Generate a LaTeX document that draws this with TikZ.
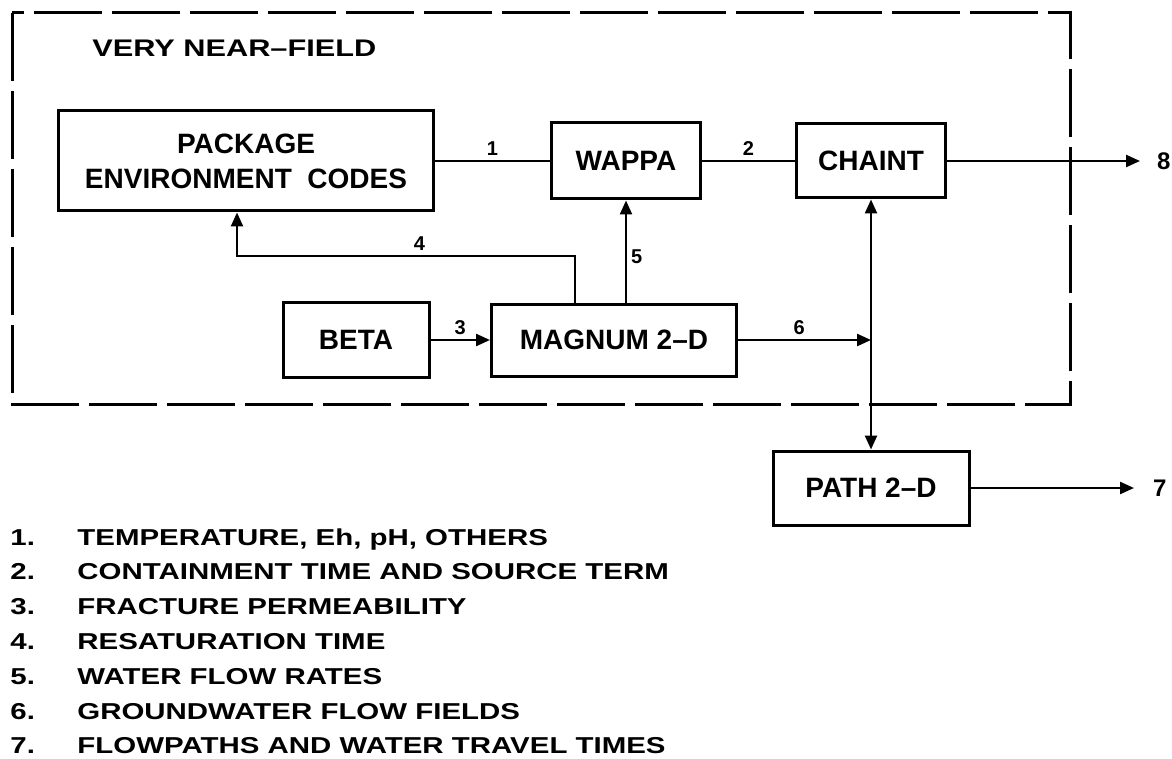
\documentclass[tikz,border=0pt]{standalone}
\usepackage{fontspec}
\setmainfont{Liberation Sans}
\newfontfamily\widefont{Liberation Sans}[Ligatures=TeX, FakeStretch=1.28]
\usetikzlibrary{arrows.meta}

\begin{document}
\begin{tikzpicture}[x=0.5pt, y=-0.5pt, >={Triangle[length=7pt, width=6pt]},
    box/.style={draw, line width=1.5pt, font=\fontsize{14}{17.5}\selectfont\bfseries, align=center, inner sep=2pt},
    link/.style={line width=1.2pt},
    num/.style={font=\fontsize{10}{12}\selectfont\bfseries, inner sep=2pt},
    legend/.style={anchor=base west, inner sep=0pt, font=\widefont\fontsize{11.5}{13}\selectfont\bfseries}]
  \useasboundingbox (0,0) rectangle (1172,759);
  \draw[line width=1.5pt, dash pattern=on 34pt off 5pt] (12,13) rectangle (1070,404);
  \node[anchor=west, inner sep=0pt, font=\widefont\fontsize{12}{14}\selectfont\bfseries] (vnf) at (92,48) {VERY NEAR--FIELD};
  \node[box, minimum width=187.5pt, minimum height=50pt] (package) at (246,161) {PACKAGE\\ENVIRONMENT\ \ CODES};
  \node[box, minimum width=74.5pt, minimum height=38pt] (wappa) at (626,161) {WAPPA};
  \node[box, minimum width=74.5pt, minimum height=37pt] (chaint) at (871,161) {CHAINT};
  \node[box, minimum width=73pt, minimum height=37.5pt] (beta) at (356,340) {BETA};
  \node[box, minimum width=122.5pt, minimum height=36pt] (magnum) at (614,340) {MAGNUM 2--D};
  \node[box, minimum width=98pt, minimum height=37pt] (pathtd) at (871,488) {PATH 2--D};
  \coordinate (out8) at (1140,161);
  \coordinate (out7) at (1134,488);
  \coordinate (k4a) at (575,256);
  \coordinate (k4b) at (237,256);
  \draw[link] (package) -- node[num, above] {1} (wappa);
  \draw[link] (wappa) -- node[num, above] {2} (chaint);
  \draw[link, ->] (chaint.east) -- (out8) node[right, inner sep=0pt, xshift=8pt, font=\fontsize{12}{14}\selectfont\bfseries] {8};
  \draw[link, ->] (beta) -- node[num, above] {3} (magnum);
  \draw[link, ->] (magnum.north -| k4a) -- (k4a) -- node[num, above, pos=0.46] {4} (k4b) -- (package.south -| k4b);
  \draw[link, ->] (magnum.north -| wappa.south) -- node[num, right, pos=0.45] {5} (wappa.south);
  \draw[link, ->] (magnum.east) -- node[num, above, pos=0.46] {6} (magnum.east -| chaint.south);
  \draw[link, <->] (chaint.south) -- (pathtd.north);
  \draw[link, ->] (pathtd.east) -- (out7) node[right, inner sep=0pt, xshift=9pt, font=\fontsize{12}{14}\selectfont\bfseries] {7};
  \foreach \n/\t [count=\i from 0] in {1/{TEMPERATURE, Eh, pH, OTHERS}, 2/{CONTAINMENT TIME AND SOURCE TERM}, 3/{FRACTURE PERMEABILITY}, 4/{RESATURATION TIME}, 5/{WATER FLOW RATES}, 6/{GROUNDWATER FLOW FIELDS}, 7/{FLOWPATHS AND WATER TRAVEL TIMES}}
  {
    \node[legend] (lnum\n) at (10,{545+34.8*\i}) {\n.};
    \node[legend] (ltxt\n) at (77,{545+34.8*\i}) {\t};
  }
\end{tikzpicture}
\end{document}
